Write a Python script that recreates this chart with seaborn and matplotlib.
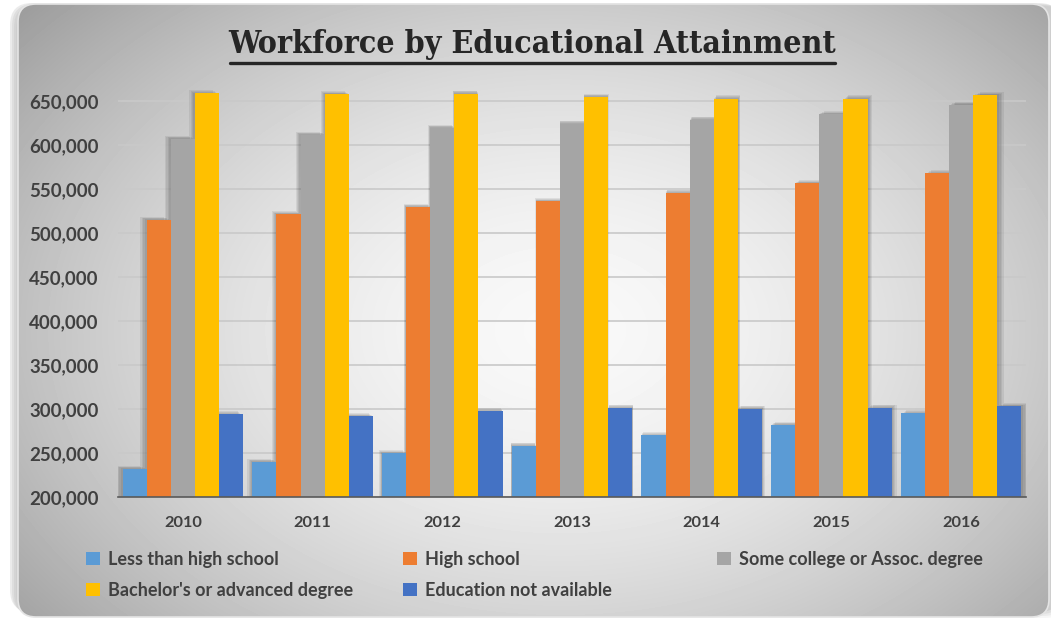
import numpy as np
import pandas as pd
import matplotlib
matplotlib.use("Agg")
import matplotlib.pyplot as plt
import seaborn as sns
from matplotlib.patches import FancyBboxPatch, Rectangle
from matplotlib.lines import Line2D
import matplotlib.transforms as mtransforms

years = ["2010", "2011", "2012", "2013", "2014", "2015", "2016"]
less_than_hs = [232000, 240000, 249600, 258300, 270000, 282000, 295000]
high_school = [515000, 521500, 529800, 536300, 546000, 556700, 568000]
some_college = [607000, 611600, 619500, 624500, 629000, 635400, 645700]
bachelors = [659000, 658000, 658500, 655000, 653000, 653000, 657000]
not_available = [294000, 292000, 297700, 301500, 300300, 301500, 303400]

series_names = ["Less than high school", "High school", "Some college or Assoc. degree",
                "Bachelor's or advanced degree", "Education not available"]
colors = ["#5B9BD5", "#ED7D31", "#A5A5A5", "#FFC000", "#4472C4"]

df = pd.DataFrame({"year": years,
                   series_names[0]: less_than_hs,
                   series_names[1]: high_school,
                   series_names[2]: some_college,
                   series_names[3]: bachelors,
                   series_names[4]: not_available})
dfm = df.melt(id_vars="year", var_name="edu", value_name="workers")

sns.set_theme(style="white")
plt.rcParams["font.family"] = ["Lato", "DejaVu Sans"]

W, H = 1051, 620
fig = plt.figure(figsize=(W / 100, H / 100), dpi=100)
fig.patch.set_facecolor("white")

# background panel with radial gradient
bg = fig.add_axes([0, 0, 1, 1], zorder=-10)
bg.set_xlim(0, W)
bg.set_ylim(H, 0)
bg.axis("off")
for i, a in enumerate([0.05, 0.07, 0.09, 0.12]):
    sh = FancyBboxPatch((10 - i * 2 + 6, 6 - i), W, 612 - i, boxstyle="round,pad=0,rounding_size=22",
                        facecolor="#606060", edgecolor="none", alpha=a)
    bg.add_patch(sh)
yy, xx = np.mgrid[0:H, 0:W]
r = np.sqrt(((xx - 560) / 640.0) ** 2 + ((yy - 330) / 440.0) ** 2)
val = np.clip(0.975 - 0.30 * r ** 1.7, 0.62, 1)
img = bg.imshow(val, cmap="gray", vmin=0, vmax=1, extent=(0, W, H, 0), zorder=1)
panel = FancyBboxPatch((18, 4), W - 20, 613, boxstyle="round,pad=0,rounding_size=18",
                       facecolor="none", edgecolor="#e4e4e4", linewidth=1.2, zorder=2)
bg.add_patch(panel)
img.set_clip_path(panel)

ax = fig.add_axes([118 / W, 1 - 497 / H, 908 / W, (497 - 88) / H])
ax.set_facecolor("none")

sns.barplot(data=dfm, x="year", y="workers", hue="edu", palette=colors, width=0.93,
            saturation=1, ax=ax, legend=False, zorder=3, linewidth=0, edgecolor="none")

# soft shadows behind the bars
for p in ax.patches[:]:
    xc = p.get_x() + p.get_width() / 2
    dx = (xc - 3.0) * 1.5
    for k in range(4):
        f = (k + 1) / 4
        off = mtransforms.offset_copy(ax.transData, fig=fig, x=dx * f, y=2.2 * f, units="points")
        s = Rectangle((p.get_x(), p.get_y()), p.get_width(), p.get_height(),
                      facecolor="#303030", edgecolor="none", alpha=0.09, transform=off, zorder=2)
        ax.add_patch(s)

ax.set_ylim(200000, 665000)
ax.set_xlim(-0.5, 6.5)
ax.set_yticks(np.arange(200000, 650001, 50000))
ax.yaxis.set_major_formatter(matplotlib.ticker.FuncFormatter(lambda v, _: f"{int(v):,}"))
ax.grid(axis="y", color="#c9c9c9", linewidth=1.2, zorder=0)
ax.set_axisbelow(True)
for s in ["top", "right", "left"]:
    ax.spines[s].set_visible(False)
ax.spines["bottom"].set_color("#595959")
ax.spines["bottom"].set_linewidth(1.2)
ax.spines["bottom"].set_zorder(5)
ax.tick_params(axis="y", length=0, pad=14, labelsize=13.5, labelcolor="#404040")
ax.tick_params(axis="x", length=5, width=1, color="#595959", direction="out", pad=9,
               labelsize=11.8, labelcolor="#404040")
ax.set_xticks([6.5], minor=True)
ax.tick_params(axis="x", which="minor", length=5, width=1, color="#595959")
for t in ax.get_yticklabels() + ax.get_xticklabels():
    t.set_fontweight("bold")
ax.set_xlabel("")
ax.set_ylabel("")

# title
fig.text(532 / W, 1 - 44 / H, "Workforce by Educational Attainment", ha="center", va="center",
         fontsize=23, fontweight="heavy", fontstretch="condensed", color="#262626",
         family=["DejaVu Serif", "DejaVu Sans"])
fig.add_artist(Line2D([230 / W, 835 / W], [1 - 63 / H, 1 - 63 / H], color="#262626", linewidth=2.4))

# legend, laid out in three columns like the original
handles = [Rectangle((0, 0), 1, 1, facecolor=c, edgecolor="none") for c in colors]
cols = [(86, [0, 3]), (403, [1, 4]), (717, [2])]
for x0, idx in cols:
    fig.legend([handles[i] for i in idx], [series_names[i] for i in idx],
               loc="upper left", bbox_to_anchor=(x0 / W, 1 - 551 / H), frameon=False,
               handlelength=0.75, handleheight=0.75, handletextpad=0.45,
               labelspacing=0.75, labelcolor="#404040", borderaxespad=0, borderpad=0,
               prop={"family": ["Lato", "DejaVu Sans"], "weight": "bold", "size": 13})

fig.savefig("out.png", dpi=100)
